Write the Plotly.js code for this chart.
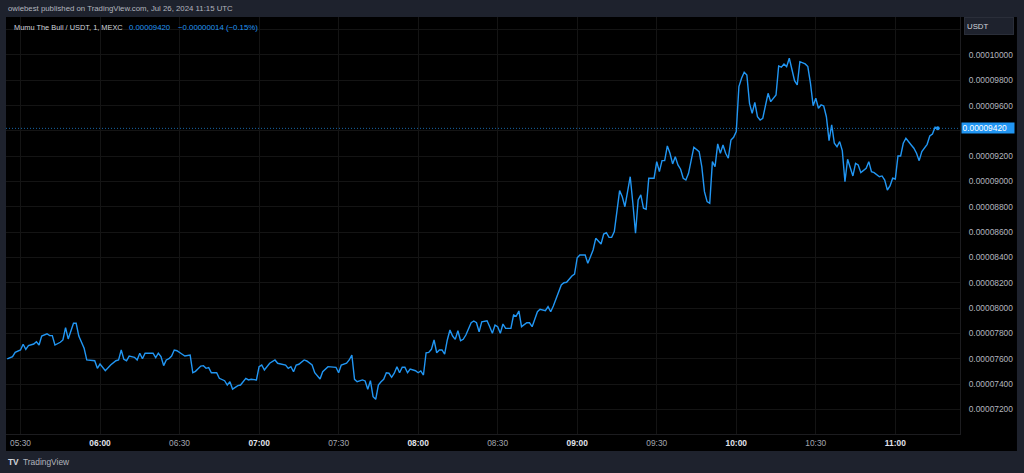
<!DOCTYPE html>
<html>
<head>
<meta charset="utf-8">
<script src="https://cdn.plot.ly/plotly-3.0.1.min.js"></script>
<style>
html,body{margin:0;padding:0;background:#1e222d;}
#chart{width:1024px;height:473px;}
</style>
</head>
<body>
<div id="chart"></div>
<script>
const chartDate = "2024-07-26";
const headerText = "owiebest published on TradingView.com, Jul 26, 2024 11:15 UTC";
const symbolText = "Mumu The Bull / USDT, 1, MEXC";
const lastPriceText = "0.00009420";
const changeText = "\u22120.00000014 (\u22120.15%)";
const currencyText = "USDT";

const times = ["05:25","05:27","05:28","05:30","05:31","05:32","05:33","05:35","05:36","05:37",
"05:38","05:40","05:41","05:42","05:43","05:45","05:46","05:47","05:48","05:50",
"05:51","05:52","05:54","05:55","05:58","05:59","06:00","06:02","06:04","06:06",
"06:07","06:08","06:09","06:10","06:11","06:13","06:14","06:15","06:16","06:17",
"06:20","06:21","06:22","06:23","06:24","06:25","06:26","06:27","06:28","06:29",
"06:31","06:32","06:34","06:35","06:36","06:38","06:39","06:40","06:41","06:42",
"06:44","06:45","06:47","06:48","06:49","06:50","06:52","06:53","06:55","06:56",
"06:57","06:59","07:00","07:01","07:02","07:04","07:06","07:07","07:10","07:11",
"07:12","07:13","07:14","07:15","07:17","07:18","07:20","07:21","07:23","07:24",
"07:26","07:29","07:30","07:31","07:33","07:34","07:35","07:36","07:37","07:39",
"07:40","07:41","07:42","07:43","07:44","07:45","07:46","07:47","07:48","07:49",
"07:50","07:51","07:52","07:53","07:54","07:55","07:56","07:57","07:59","08:00",
"08:01","08:02","08:03","08:04","08:05","08:06","08:07","08:08","08:09","08:10",
"08:11","08:12","08:13","08:14","08:15","08:16","08:17","08:18","08:20","08:21",
"08:22","08:23","08:24","08:26","08:27","08:28","08:29","08:30","08:31","08:32",
"08:33","08:35","08:36","08:37","08:38","08:39","08:41","08:42","08:43","08:44",
"08:45","08:46","08:48","08:49","08:50","08:51","08:52","08:54","08:55","08:56",
"08:58","08:59","09:00","09:01","09:03","09:04","09:05","09:06","09:07","09:09",
"09:10","09:11","09:12","09:13","09:14","09:15","09:16","09:17","09:18","09:19",
"09:20","09:21","09:22","09:23","09:24","09:25","09:26","09:27","09:28","09:29",
"09:30","09:31","09:32","09:33","09:34","09:35","09:36","09:37","09:38","09:39",
"09:40","09:41","09:42","09:43","09:44","09:46","09:47","09:48","09:49","09:50",
"09:51","09:52","09:53","09:54","09:55","09:56","09:57","09:58","09:59","10:00",
"10:01","10:02","10:03","10:04","10:05","10:06","10:07","10:08","10:09","10:10",
"10:11","10:12","10:13","10:15","10:16","10:17","10:18","10:19","10:20","10:21",
"10:22","10:23","10:24","10:26","10:27","10:28","10:29","10:30","10:31","10:32",
"10:33","10:34","10:35","10:36","10:37","10:38","10:39","10:40","10:41","10:42",
"10:44","10:45","10:46","10:47","10:49","10:50","10:51","10:52","10:54","10:55",
"10:56","10:57","10:58","10:59","11:00","11:01","11:02","11:03","11:04","11:06",
"11:07","11:08","11:09","11:10","11:12","11:13","11:14","11:15","11:16"];

const prices = [0.00007598,0.00007616,0.00007650,0.00007669,0.00007714,0.00007674,0.00007703,0.00007716,0.00007734,0.00007708,
0.00007779,0.00007797,0.00007782,0.00007782,0.00007708,0.00007730,0.00007748,0.00007845,0.00007756,0.00007880,
0.00007880,0.00007779,0.00007682,0.00007590,0.00007584,0.00007524,0.00007558,0.00007505,0.00007550,0.00007584,
0.00007590,0.00007669,0.00007595,0.00007584,0.00007621,0.00007611,0.00007590,0.00007643,0.00007600,0.00007643,
0.00007643,0.00007608,0.00007643,0.00007616,0.00007545,0.00007590,0.00007600,0.00007621,0.00007669,0.00007663,
0.00007635,0.00007621,0.00007629,0.00007489,0.00007500,0.00007542,0.00007545,0.00007524,0.00007529,0.00007489,
0.00007489,0.00007445,0.00007426,0.00007392,0.00007418,0.00007360,0.00007387,0.00007392,0.00007445,0.00007432,
0.00007437,0.00007432,0.00007537,0.00007550,0.00007511,0.00007564,0.00007590,0.00007564,0.00007550,0.00007524,
0.00007537,0.00007497,0.00007550,0.00007556,0.00007590,0.00007582,0.00007550,0.00007489,0.00007439,0.00007497,
0.00007537,0.00007532,0.00007489,0.00007550,0.00007564,0.00007590,0.00007629,0.00007437,0.00007418,0.00007432,
0.00007424,0.00007358,0.00007426,0.00007300,0.00007279,0.00007392,0.00007418,0.00007437,0.00007489,0.00007485,
0.00007453,0.00007485,0.00007537,0.00007489,0.00007532,0.00007532,0.00007489,0.00007518,0.00007505,0.00007489,
0.00007503,0.00007471,0.00007647,0.00007650,0.00007674,0.00007748,0.00007647,0.00007669,0.00007669,0.00007637,
0.00007748,0.00007827,0.00007779,0.00007753,0.00007821,0.00007742,0.00007753,0.00007787,0.00007884,0.00007898,
0.00007884,0.00007813,0.00007892,0.00007900,0.00007853,0.00007801,0.00007866,0.00007853,0.00007801,0.00007874,
0.00007840,0.00007840,0.00007945,0.00007937,0.00007977,0.00007853,0.00007884,0.00007884,0.00007853,0.00007919,
0.00007971,0.00007990,0.00007979,0.00008011,0.00007971,0.00008016,0.00008077,0.00008182,0.00008200,0.00008204,
0.00008253,0.00008269,0.00008398,0.00008419,0.00008419,0.00008354,0.00008406,0.00008459,0.00008551,0.00008506,
0.00008585,0.00008596,0.00008559,0.00008559,0.00008604,0.00008789,0.00008928,0.00008880,0.00008801,0.00008920,
0.00009038,0.00008828,0.00008591,0.00008854,0.00008894,0.00008789,0.00008781,0.00009026,0.00009026,0.00009026,
0.00009157,0.00009078,0.00009165,0.00009165,0.00009281,0.00009223,0.00009139,0.00009196,0.00009131,0.00009097,
0.00009026,0.00009012,0.00009065,0.00009170,0.00009271,0.00009236,0.00009117,0.00008920,0.00008841,0.00008828,
0.00009157,0.00009117,0.00009297,0.00009223,0.00009289,0.00009223,0.00009184,0.00009328,0.00009350,0.00009394,
0.00009750,0.00009816,0.00009863,0.00009842,0.00009618,0.00009539,0.00009626,0.00009512,0.00009486,0.00009500,
0.00009597,0.00009697,0.00009631,0.00009684,0.00009913,0.00009903,0.00009929,0.00009908,0.00009974,0.00009895,
0.00009797,0.00009763,0.00009947,0.00009929,0.00009908,0.00009776,0.00009599,0.00009658,0.00009579,0.00009605,
0.00009597,0.00009512,0.00009323,0.00009447,0.00009302,0.00009275,0.00009315,0.00009244,0.00008999,0.00009176,
0.00009044,0.00009144,0.00009131,0.00009070,0.00009105,0.00009157,0.00009078,0.00009070,0.00009038,0.00009044,
0.00009012,0.00008933,0.00008965,0.00009026,0.00009020,0.00009202,0.00009202,0.00009302,0.00009342,0.00009289,
0.00009263,0.00009223,0.00009165,0.00009236,0.00009294,0.00009360,0.00009376,0.00009429,0.00009420];

const lastPrice = 0.00009420;
const timeTicks = ["05:30","06:00","06:30","07:00","07:30","08:00","08:30","09:00","09:30","10:00","10:30","11:00"];
// price grid levels; labels hidden where the reference covers them with the USDT box / last-price tag
const priceTicks = [0.00007200,0.00007400,0.00007600,0.00007800,0.00008000,0.00008200,0.00008400,
                    0.00008600,0.00008800,0.00009000,0.00009200,0.00009400,0.00009600,0.00009800,0.00010000,0.00010200];
const priceTickLabels = ["0.00007200","0.00007400","0.00007600","0.00007800","0.00008000","0.00008200","0.00008400",
                    "0.00008600","0.00008800","0.00009000","0.00009200","","0.00009600","0.00009800","0.00010000",""];
const priceRange = [0.00007005, 0.00010300];
const timeRange = ["05:24:32", "11:24:24"];

const blue = "#2196f3";
const FONT = "Liberation Sans, Arial, sans-serif";

const xs = times.map(t => chartDate + " " + t);
const tickVals = timeTicks.map(t => chartDate + " " + t);
const tickText = timeTicks.map(t => t.endsWith(":00")
  ? '<span style="color:#e0e3eb"><b>' + t + '</b></span>' : t);

const traces = [
  {
    x: xs, y: prices, type: "scatter", mode: "lines",
    line: {color: blue, width: 1.4}, hoverinfo: "skip"
  },
  {
    x: [xs[xs.length - 1]], y: [prices[prices.length - 1]], type: "scatter", mode: "markers",
    marker: {color: blue, size: 4}, hoverinfo: "skip"
  }
];

const layout = {
  width: 1024, height: 473,
  margin: {l: 6, r: 64, t: 17, b: 39, pad: 0},
  paper_bgcolor: "#1e222d",
  plot_bgcolor: "#000000",
  showlegend: false,
  font: {family: FONT, color: "#b2b5be", size: 8.4},
  xaxis: {
    type: "date",
    range: timeRange.map(t => chartDate + " " + t),
    tickmode: "array", tickvals: tickVals, ticktext: tickText,
    showgrid: true, gridcolor: "#141414", gridwidth: 1,
    zeroline: false, showline: true, linecolor: "#1c1c1f", linewidth: 1,
    ticks: "", ticklabelstandoff: 1,
    tickfont: {family: FONT, size: 8.4, color: "#a3a6af"},
    fixedrange: true
  },
  yaxis: {
    side: "right",
    range: priceRange,
    tickmode: "array", tickvals: priceTicks, ticktext: priceTickLabels,
    showgrid: true, gridcolor: "#141414", gridwidth: 1,
    zeroline: false, showline: true, linecolor: "#1c1c1f", linewidth: 1,
    ticks: "", ticklabelstandoff: 6,
    tickfont: {family: FONT, size: 8.4, color: "#b2b5be"},
    fixedrange: true
  },
  shapes: [
    {type: "rect", xref: "paper", yref: "paper", x0: 0, x1: 1.0597, y0: -0.0408, y1: 1,
     fillcolor: "#000000", line: {width: 0}, layer: "below"},
    {type: "line", xref: "paper", yref: "y", x0: 0, x1: 1, y0: lastPrice, y1: lastPrice,
     line: {color: "#1f7fd0", width: 0.8, dash: "1px,2px"}}
  ],
  annotations: [
    {text: headerText, xref: "paper", yref: "paper", x: 0, y: 1.0196, xanchor: "left", yanchor: "middle",
     showarrow: false, font: {family: FONT, size: 7.8, color: "#b2b5be"}},
    {text: symbolText, xref: "paper", yref: "paper", x: 0.0063, y: 0.976, xanchor: "left", yanchor: "middle",
     showarrow: false, font: {family: FONT, size: 7.4, color: "#d1d4dc"}},
    {text: lastPriceText, xref: "paper", yref: "paper", x: 0.1268, y: 0.976, xanchor: "left", yanchor: "middle",
     showarrow: false, font: {family: FONT, size: 7.8, color: blue}},
    {text: changeText, xref: "paper", yref: "paper", x: 0.1782, y: 0.976, xanchor: "left", yanchor: "middle",
     showarrow: false, font: {family: FONT, size: 7.8, color: blue}},
    {text: currencyText, xref: "paper", yref: "paper", x: 1.0042, y: 0.9785, xanchor: "left", yanchor: "middle",
     showarrow: false, align: "left", width: 44, height: 12, borderpad: 2,
     bgcolor: "#1e222d", bordercolor: "#2a2e39", borderwidth: 1,
     font: {family: FONT, size: 7.8, color: "#d1d4dc"}},
    {text: lastPriceText, xref: "paper", yref: "y", x: 1.0015, y: lastPrice, xanchor: "left", yanchor: "middle",
     showarrow: false, align: "left", width: 51, height: 9, borderpad: 0.5,
     bgcolor: blue, font: {family: FONT, size: 8.4, color: "#ffffff"}},
    {text: "<b>TV</b>", xref: "paper", yref: "paper", x: 0.0, y: -0.0675, xanchor: "left", yanchor: "middle",
     showarrow: false, font: {family: FONT, size: 8.4, color: "#d1d4dc"}},
    {text: "TradingView", xref: "paper", yref: "paper", x: 0.0157, y: -0.0675, xanchor: "left", yanchor: "middle",
     showarrow: false, font: {family: FONT, size: 8.4, color: "#b2b5be"}}
  ]
};

Plotly.newPlot("chart", traces, layout, {displayModeBar: false, staticPlot: true});
</script>
</body>
</html>
